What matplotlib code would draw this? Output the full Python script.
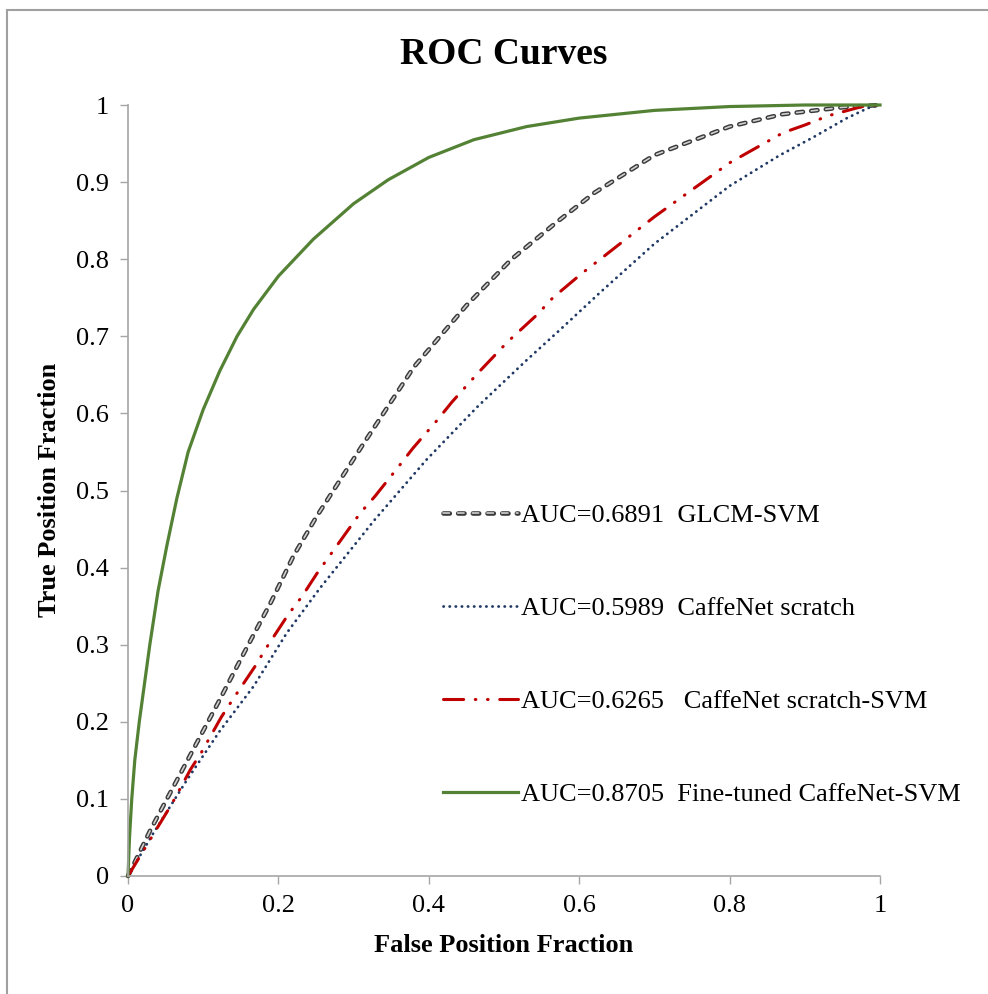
import matplotlib
matplotlib.use("Agg")
import matplotlib.pyplot as plt
import matplotlib.patheffects as pe
from matplotlib.patches import Rectangle

# ROC curve points
glcm_fpr = [0, 0.015, 0.03, 0.06, 0.09, 0.12, 0.16, 0.19, 0.22, 0.25, 0.31, 0.38, 0.45, 0.51, 0.57, 0.62, 0.70, 0.80, 0.87, 0.95, 1]
glcm_tpr = [0, 0.03, 0.06, 0.115, 0.17, 0.225, 0.30, 0.355, 0.415, 0.465, 0.556, 0.66, 0.74, 0.80, 0.848, 0.886, 0.935, 0.972, 0.988, 0.997, 1]

scratch_fpr = [0, 0.034, 0.078, 0.122, 0.167, 0.211, 0.255, 0.328, 0.397, 0.464, 0.53, 0.574, 0.628, 0.70, 0.80, 0.867, 0.911, 0.956, 0.984, 1]
scratch_tpr = [0, 0.056, 0.124, 0.188, 0.246, 0.315, 0.373, 0.462, 0.540, 0.608, 0.669, 0.708, 0.757, 0.82, 0.895, 0.935, 0.958, 0.983, 0.996, 1]

svm_fpr = [0, 0.02, 0.043, 0.058, 0.083, 0.098, 0.124, 0.14, 0.169, 0.184, 0.213, 0.231, 0.251, 0.309, 0.328, 0.359, 0.379, 0.411, 0.431, 0.465, 0.505, 0.544, 0.565, 0.604, 0.628, 0.70, 0.80, 0.871, 0.90, 0.931, 0.976, 1]
svm_tpr = [0, 0.032, 0.069, 0.093, 0.138, 0.161, 0.206, 0.23, 0.272, 0.296, 0.339, 0.362, 0.392, 0.471, 0.492, 0.530, 0.555, 0.591, 0.615, 0.652, 0.693, 0.728, 0.75, 0.782, 0.80, 0.855, 0.925, 0.964, 0.974, 0.986, 0.998, 1]

fine_fpr = [0, 0.002, 0.005, 0.009, 0.015, 0.022, 0.029, 0.04, 0.052, 0.065, 0.08, 0.10, 0.122, 0.145, 0.167, 0.20, 0.2465, 0.30, 0.346, 0.40, 0.46, 0.53, 0.60, 0.70, 0.80, 0.90, 1]
fine_tpr = [0, 0.05, 0.10, 0.15, 0.20, 0.25, 0.30, 0.37, 0.43, 0.49, 0.55, 0.605, 0.655, 0.70, 0.735, 0.778, 0.826, 0.872, 0.903, 0.932, 0.955, 0.972, 0.983, 0.993, 0.998, 1.0, 1]

labels = ["AUC=0.6891  GLCM-SVM",
          "AUC=0.5989  CaffeNet scratch",
          "AUC=0.6265   CaffeNet scratch-SVM",
          "AUC=0.8705  Fine-tuned CaffeNet-SVM"]
ticks = [0, 0.2, 0.4, 0.6, 0.8, 1]
tick_labels = ["0", "0.2", "0.4", "0.6", "0.8", "1"]
yticks = [0, 0.1, 0.2, 0.3, 0.4, 0.5, 0.6, 0.7, 0.8, 0.9, 1]
ytick_labels = ["0", "0.1", "0.2", "0.3", "0.4", "0.5", "0.6", "0.7", "0.8", "0.9", "1"]

plt.rcParams['font.family'] = ['Liberation Serif', 'DejaVu Serif']
grey = '#a6a6a6'

fig = plt.figure(figsize=(9.88, 9.94), dpi=100)
ax = fig.add_axes([128/988, 118/994, 752/988, 771/994])

ax.plot(glcm_fpr, glcm_tpr, color='#d0d0d0', lw=1.2, linestyle=(0, (3.8, 5.0)),
        dash_capstyle='round', clip_on=False, label=labels[0],
        path_effects=[pe.Stroke(linewidth=3.3, foreground='#3a3a3a'), pe.Normal()])
ax.plot(scratch_fpr, scratch_tpr, color='#1f3864', lw=2.0, linestyle=(0, (0.1, 2.1)),
        dash_capstyle='round', clip_on=False, label=labels[1])
ax.plot(svm_fpr, svm_tpr, color='#c00000', lw=2.2, linestyle=(0, (6.6, 3.8, 0.2, 3.8, 0.2, 3.8)),
        dash_capstyle='round', clip_on=False, label=labels[2])
ax.plot(fine_fpr, fine_tpr, color='#548235', lw=2.3, clip_on=False, label=labels[3])

ax.set_xlim(0, 1)
ax.set_ylim(0, 1)
ax.set_xticks(ticks)
ax.set_xticklabels(tick_labels)
ax.set_yticks(yticks)
ax.set_yticklabels(ytick_labels)
ax.tick_params(axis='both', direction='out', length=5.5, width=1.0, color=grey, labelsize=19)
ax.tick_params(axis='x', pad=8)
ax.tick_params(axis='y', pad=8)
for s in ['top', 'right']:
    ax.spines[s].set_visible(False)
for s in ['left', 'bottom']:
    ax.spines[s].set_color(grey)
    ax.spines[s].set_linewidth(1.2)

leg = ax.legend(loc='center left', bbox_to_anchor=(0.419, 0.287), frameon=False,
                fontsize=19, labelspacing=2.64, handlelength=2.85, handletextpad=0.1,
                borderpad=0, borderaxespad=0)

fig.text(0.5095, 1 - 55/994, "ROC Curves", ha='center', va='center', fontsize=27, fontweight='bold')
fig.text(0.5095, 49/994, "False Position Fraction", ha='center', va='center', fontsize=19, fontweight='bold')
fig.text(50/988, 1 - 490/994, "True Position Fraction", ha='center', va='center', rotation=90,
         fontsize=19, fontweight='bold')

# outer frame of the picture
fig.patches.append(Rectangle((7/988, -0.01), 1.02, 1 - 10/994 + 0.01, transform=fig.transFigure,
                             fill=False, edgecolor='#a0a0a0', linewidth=1.5))

fig.savefig("out.png", dpi=100)
